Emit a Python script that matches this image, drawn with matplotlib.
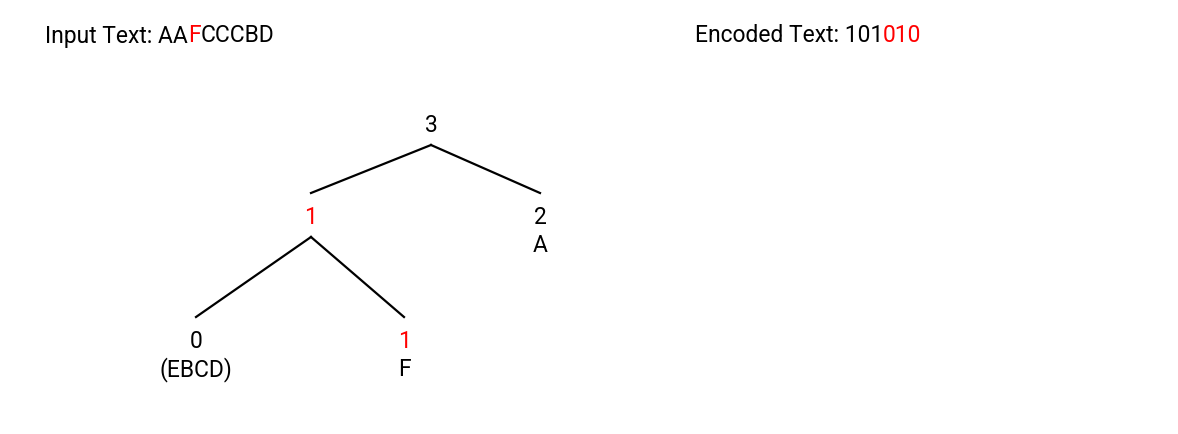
import matplotlib.pyplot as plt

plt.rcParams['font.family'] = ['Roboto', 'DejaVu Sans']

# text pieces: (string, highlighted?)
input_parts = [("Input Text: AA", False), ("F", True), ("CCCBD", False)]
encoded_parts = [("Encoded Text: 101", False), ("010", True)]

# tree nodes: weight, symbol label, highlighted
node_weights = ["3", "1", "2", "0", "1"]
node_symbols = ["", "", "A", "(EBCD)", "F"]
node_red = [False, True, False, False, True]
edges = [(0, 1), (0, 2), (1, 3), (1, 4)]

# layout (pixel coordinates)
node_xy = [(431, 125), (311, 217), (540, 217), (196, 341), (404, 341)]
RED = "#ff0000"
FS = 16.5

fig = plt.figure(figsize=(11.78, 4.34), dpi=100)
ax = fig.add_axes([0, 0, 1, 1])
ax.set_xlim(0, 1178)
ax.set_ylim(434, 0)
ax.axis("off")


def colored_line(parts, x, y):
    fig.canvas.draw()
    r = fig.canvas.get_renderer()
    inv = ax.transData.inverted()
    for s, red in parts:
        t = ax.text(x, y, s, fontsize=FS, va="center", ha="left",
                    color=RED if red else "black")
        bb = t.get_window_extent(renderer=r)
        x = inv.transform((bb.x1, bb.y0))[0]


colored_line(input_parts, 45, 36)
colored_line(encoded_parts, 695, 36)

for a, b in edges:
    xa, ya = node_xy[a]
    xb, yb = node_xy[b]
    ax.plot([xa, xb], [ya + 20, yb - 24], color="black", lw=1.6)

for (x, y), w, s, red in zip(node_xy, node_weights, node_symbols, node_red):
    ax.text(x, y, w, fontsize=FS, ha="center", va="center",
            color=RED if red else "black")
    if s:
        ax.text(x, y + 29, s, fontsize=FS, ha="center", va="center")

fig.savefig("out.png", dpi=100)
